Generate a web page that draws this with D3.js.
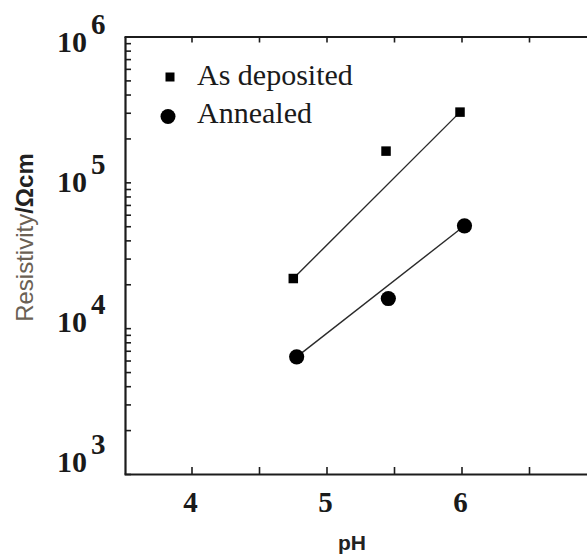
<!DOCTYPE html>
<html>
<head>
<meta charset="utf-8">
<script src="https://cdn.jsdelivr.net/npm/d3@7/dist/d3.min.js"></script>
<style>
  html, body { margin: 0; padding: 0; background: #fff; }
  svg { display: block; }
</style>
</head>
<body>
<svg id="chart" width="587" height="554"></svg>
<script>
// Resistivity of films vs bath pH, before and after annealing
const seriesNames = ["As deposited", "Annealed"];
const depositedPH = [4.754, 5.441, 5.989];
const depositedRho = [21900, 163700, 303000];
const annealedPH = [4.779, 5.458, 6.022];
const annealedRho = [6360, 15970, 50350];

const xTickValues = [4, 4.5, 5, 5.5, 6, 6.5];
const xTickLabels = ["4", "5", "6"];
const yDecadeExponents = ["3", "4", "5", "6"];

const svg = d3.select("#chart");
const W = 587, H = 554;

const x = d3.scaleLinear().domain([3.5, 7.0]).range([124, 596.5]);
const y = d3.scaleLog().domain([1e3, 1e6]).range([474, 36.5]);
// the decade labels sit in their own column, slightly compressed
const yLabel = d3.scaleLinear().domain([3, 6]).range([472, 51.7]);

// minor + major ticks for the log axis
const yTickValues = [];
for (let e = 3; e < 6; e++) {
  for (let m = 1; m < 10; m++) yTickValues.push(m * Math.pow(10, e));
}
yTickValues.push(1e6);

const axisColor = "#1c1c1c";

function styleAxis(g) {
  g.select(".domain").attr("stroke", axisColor).attr("stroke-width", 2.2);
  g.selectAll(".tick line").attr("stroke", axisColor).attr("stroke-width", 1.6);
  g.selectAll(".tick text").remove();
}

svg.append("g")
  .attr("transform", `translate(0,${y(1e3)})`)
  .call(d3.axisBottom(x).tickValues(xTickValues).tickSizeInner(-7).tickSizeOuter(0).tickFormat(""))
  .call(styleAxis);

svg.append("g")
  .attr("transform", `translate(0,${y(1e6)})`)
  .call(d3.axisTop(x).tickValues(xTickValues).tickSizeInner(-6).tickSizeOuter(0).tickFormat(""))
  .call(styleAxis);

svg.append("g")
  .attr("transform", `translate(${x(3.5) + 1},0)`)
  .call(d3.axisLeft(y).tickValues(yTickValues).tickSizeInner(-6).tickSizeOuter(0).tickFormat(""))
  .call(styleAxis);

// x tick labels
svg.append("g").selectAll("text")
  .data(xTickLabels)
  .join("text")
  .attr("x", d => x(+d) - 1)
  .attr("y", 512)
  .attr("text-anchor", "middle")
  .attr("font-family", "'Liberation Serif', 'Times New Roman', serif")
  .attr("font-weight", "bold")
  .attr("font-size", 29)
  .attr("fill", "#1a1a1a")
  .text(d => d);

// y decade labels: 10 with superscript exponent
const yl = svg.append("g").selectAll("g")
  .data(yDecadeExponents)
  .join("g");
yl.append("text")
  .attr("x", 87)
  .attr("y", d => yLabel(+d))
  .attr("text-anchor", "end")
  .attr("font-family", "'Liberation Serif', 'Times New Roman', serif")
  .attr("font-weight", "bold")
  .attr("font-size", 30)
  .attr("fill", "#1a1a1a")
  .text("10");
yl.append("text")
  .attr("x", 91)
  .attr("y", d => yLabel(+d) - 18)
  .attr("text-anchor", "start")
  .attr("font-family", "'Liberation Serif', 'Times New Roman', serif")
  .attr("font-weight", "bold")
  .attr("font-size", 29)
  .attr("fill", "#1a1a1a")
  .text(d => d);

// axis titles
svg.append("text")
  .attr("x", 352)
  .attr("y", 550)
  .attr("text-anchor", "middle")
  .attr("font-family", "'Liberation Sans', Arial, sans-serif")
  .attr("font-weight", "bold")
  .attr("font-size", 21)
  .attr("fill", "#222")
  .text("pH");

const yt = svg.append("text")
  .attr("transform", "translate(33,237.5) rotate(-90)")
  .attr("text-anchor", "middle")
  .attr("font-family", "'Liberation Sans', Arial, sans-serif")
  .attr("font-size", 24);
yt.append("tspan").attr("fill", "#6b6155").text("Resistivity");
yt.append("tspan").attr("fill", "#222").attr("font-weight", "bold").text("/Ωcm");

// data
const deposited = depositedPH.map((p, i) => ({ ph: p, rho: depositedRho[i] }));
const annealed = annealedPH.map((p, i) => ({ ph: p, rho: annealedRho[i] }));

// straight trend lines spanning each series
const line = d3.line().x(d => x(d.ph)).y(d => y(d.rho));
[deposited, annealed].forEach(s => {
  svg.append("path")
    .datum([s[0], s[s.length - 1]])
    .attr("d", line)
    .attr("fill", "none")
    .attr("stroke", "#2a2a2a")
    .attr("stroke-width", 1.4);
});

const sq = 9.5;
svg.append("g").selectAll("rect")
  .data(deposited)
  .join("rect")
  .attr("x", d => x(d.ph) - sq / 2)
  .attr("y", d => y(d.rho) - sq / 2)
  .attr("width", sq)
  .attr("height", sq)
  .attr("fill", "#000");

svg.append("g").selectAll("circle")
  .data(annealed)
  .join("circle")
  .attr("cx", d => x(d.ph))
  .attr("cy", d => y(d.rho))
  .attr("r", 7.6)
  .attr("fill", "#000");

// legend
const legend = svg.append("g");
legend.append("rect")
  .attr("x", 170 - 4.5).attr("y", 77 - 4.5)
  .attr("width", 9).attr("height", 9)
  .attr("fill", "#000");
legend.append("circle")
  .attr("cx", 168).attr("cy", 116.5).attr("r", 7.5)
  .attr("fill", "#000");
legend.selectAll("text")
  .data(seriesNames)
  .join("text")
  .attr("x", 197)
  .attr("y", (d, i) => 85 + i * 38)
  .attr("font-family", "'Liberation Serif', 'Times New Roman', serif")
  .attr("font-size", 30)
  .attr("fill", "#1a1a1a")
  .text(d => d);
</script>
</body>
</html>
